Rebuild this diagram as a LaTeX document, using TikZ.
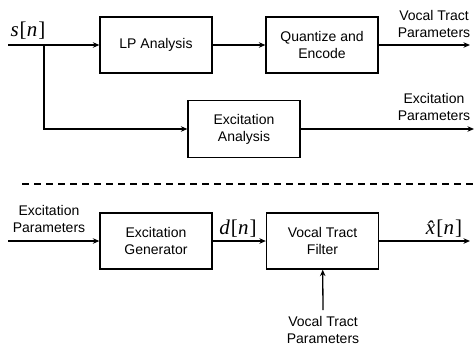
\documentclass[tikz,border=0pt]{standalone}
\usepackage{fontspec}
\setmainfont{Liberation Sans}
\newfontfamily\serifmath{Liberation Serif}
\usetikzlibrary{arrows.meta}
\newcommand{\mvar}[1]{{\serifmath\itshape #1}}
\newcommand{\mbr}[1]{{\serifmath #1}}
\newcommand{\sigtxt}[1]{\mvar{#1}\kern1pt\mbr{[}\kern0.3pt\mvar{n}\kern1pt\mbr{]}}
\begin{document}
\begin{tikzpicture}[x=1pt,y=-1pt,
  line width=1.3pt,
  >={Stealth[length=6.5pt,width=5.5pt]},
  blk/.style={draw,line width=1.3pt,minimum width=112pt,minimum height=56pt,inner sep=0pt,align=center,font=\fontsize{14}{17}\selectfont},
  lbl/.style={align=center,inner sep=0pt,font=\fontsize{14}{17}\selectfont},
  sig/.style={inner sep=0pt,font=\fontsize{21}{24}\selectfont}]
\useasboundingbox (0,0) rectangle (476,345);
% top half
\node[blk] (lp) at (156,45) {LP Analysis};
\node[blk] (qe) at (322,45) {Quantize and\\Encode};
\node[blk,minimum height=57pt] (ea) at (244,129) {Excitation\\Analysis};
\coordinate (in) at (8,45);
\coordinate (br) at (44,45);
\coordinate (vtout) at (470,45);
\coordinate (epout) at (474,129);
\node[sig] (s) at (28,31) {\sigtxt{s}};
\node[lbl] (vtp) at (434,24) {Vocal Tract\\Parameters};
\node[lbl] (epp) at (434,107) {Excitation\\Parameters};
\draw[->] (in) -- (lp);
\draw[->] (lp) -- (qe);
\draw[->] (qe) -- (vtout);
\draw[->] (br) |- (ea);
\draw[->] (ea) -- (epout);
% separator
\coordinate (dl) at (22,184);
\coordinate (dr) at (476,184);
\draw[dash pattern=on 7pt off 5pt] (dl) -- (dr);
% bottom half
\node[blk] (eg) at (156,241) {Excitation\\Generator};
\node[blk] (vf) at (322.5,241) {Vocal Tract\\Filter};
\coordinate (epin) at (8,241);
\coordinate (xout) at (470,241);
\coordinate (vtin) at (323,310);
\node[lbl] (epl) at (49,219) {Excitation\\Parameters};
\node[sig] (d) at (238,229) {\sigtxt{d}};
\node[sig] (xh) at (444,229) {\sigtxt{\^{x}}};
\node[lbl] (vtl) at (323,330) {Vocal Tract\\Parameters};
\draw[->] (epin) -- (eg);
\draw[->] (eg) -- (vf);
\draw[->] (vf) -- (xout);
\draw[->] (vtin) -- (vf);
\end{tikzpicture}
\end{document}
